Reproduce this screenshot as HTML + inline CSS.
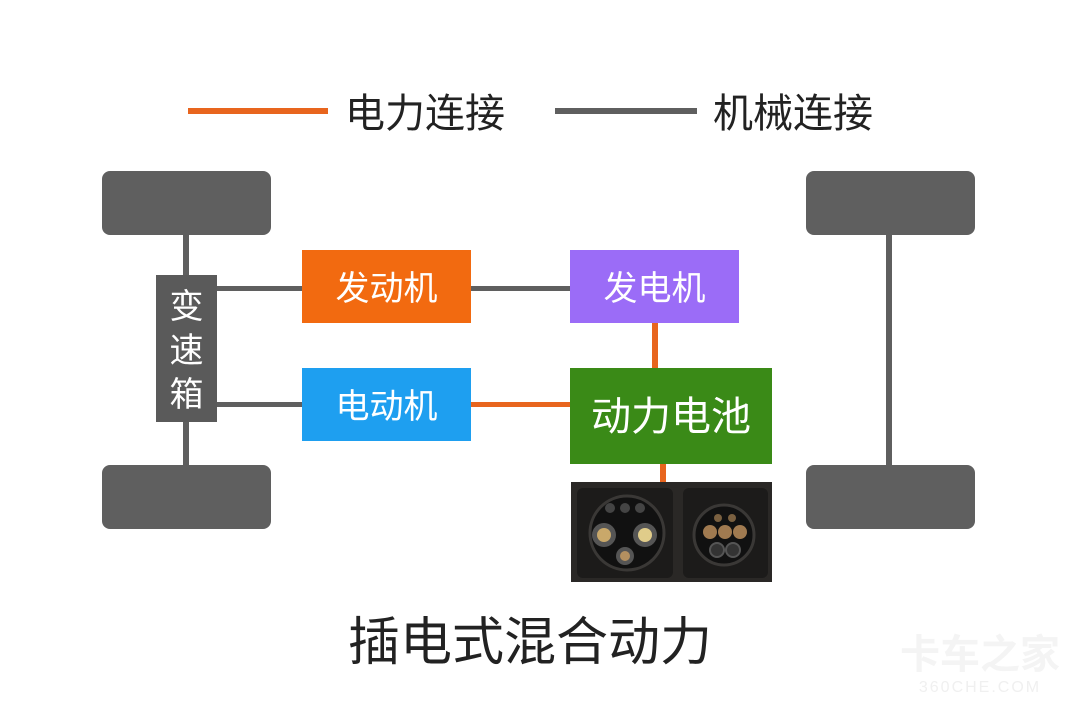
<!DOCTYPE html>
<html><head><meta charset="utf-8"><style>
body{margin:0;width:1080px;height:720px;background:#fff;overflow:hidden;font-family:"Liberation Sans","Noto Sans CJK SC",sans-serif}
</style></head><body>
<svg width="1080" height="720" viewBox="0 0 1080 720" xmlns="http://www.w3.org/2000/svg" font-family="Liberation Sans, Noto Sans CJK SC, sans-serif">
<rect width="1080" height="720" fill="#fff"/>
<rect x="188" y="108" width="140" height="6" fill="#e8651e"/>
<text x="345" y="127" font-size="40" fill="#222">电力连接</text>
<rect x="555" y="108" width="142" height="6" fill="#5f5f5f"/>
<text x="713" y="127" font-size="40" fill="#222">机械连接</text>
<rect x="183" y="230" width="6" height="240" fill="#5f5f5f"/>
<rect x="886" y="230" width="6" height="240" fill="#5f5f5f"/>
<rect x="102" y="171" width="169" height="64" rx="8" fill="#5f5f5f"/>
<rect x="102" y="465" width="169" height="64" rx="8" fill="#5f5f5f"/>
<rect x="806" y="171" width="169" height="64" rx="8" fill="#5f5f5f"/>
<rect x="806" y="465" width="169" height="64" rx="8" fill="#5f5f5f"/>
<rect x="217" y="286" width="85" height="5" fill="#5f5f5f"/>
<rect x="217" y="402" width="85" height="5" fill="#5f5f5f"/>
<rect x="471" y="286" width="99" height="5" fill="#5f5f5f"/>
<rect x="471" y="402" width="99" height="5" fill="#e8651e"/>
<rect x="652" y="323" width="6" height="45" fill="#e8651e"/>
<rect x="660" y="464" width="6" height="20" fill="#e8651e"/>
<rect x="156" y="275" width="61" height="147" fill="#5a5a5a"/>
<text x="186.5" y="318" font-size="34" fill="#fff" text-anchor="middle">变</text>
<text x="186.5" y="362" font-size="34" fill="#fff" text-anchor="middle">速</text>
<text x="186.5" y="406" font-size="34" fill="#fff" text-anchor="middle">箱</text>
<rect x="302" y="250" width="169" height="73" fill="#f26a10"/>
<text x="386.5" y="300" font-size="34" fill="#fff" text-anchor="middle">发动机</text>
<rect x="570" y="250" width="169" height="73" fill="#9b6cf7"/>
<text x="654.5" y="300" font-size="34" fill="#fff" text-anchor="middle">发电机</text>
<rect x="302" y="368" width="169" height="73" fill="#1e9ff0"/>
<text x="386.5" y="418" font-size="34" fill="#fff" text-anchor="middle">电动机</text>
<rect x="570" y="368" width="202" height="96" fill="#3a8a17"/>
<text x="671" y="430" font-size="40" fill="#fff" text-anchor="middle">动力电池</text>
<rect x="571" y="482" width="201" height="100" fill="#2a2826"/>
<rect x="577" y="488" width="96" height="90" rx="6" fill="#1c1b1a"/>
<rect x="683" y="488" width="85" height="90" rx="6" fill="#1c1b1a"/>
<circle cx="627" cy="533" r="37" fill="#111" stroke="#3a3836" stroke-width="3"/>
<circle cx="604" cy="535" r="12" fill="#555"/><circle cx="604" cy="535" r="7" fill="#c9a86a"/>
<circle cx="645" cy="535" r="12" fill="#555"/><circle cx="645" cy="535" r="7" fill="#e0cc8a"/>
<circle cx="625" cy="556" r="9" fill="#555"/><circle cx="625" cy="556" r="5" fill="#b49060"/>
<circle cx="610" cy="508" r="5" fill="#444"/><circle cx="625" cy="508" r="5" fill="#444"/><circle cx="640" cy="508" r="5" fill="#444"/>
<circle cx="724" cy="535" r="30" fill="#111" stroke="#3a3836" stroke-width="3"/>
<circle cx="710" cy="532" r="7" fill="#a07a50"/><circle cx="725" cy="532" r="7" fill="#a07a50"/><circle cx="740" cy="532" r="7" fill="#a07a50"/>
<circle cx="717" cy="550" r="7" fill="#333" stroke="#555" stroke-width="2"/><circle cx="733" cy="550" r="7" fill="#333" stroke="#555" stroke-width="2"/>
<circle cx="718" cy="518" r="4" fill="#7a6040"/><circle cx="732" cy="518" r="4" fill="#7a6040"/>
<text x="530" y="660" font-size="52" fill="#222" text-anchor="middle">插电式混合动力</text>
<text x="980" y="668" font-size="40" fill="#f4f4f4" text-anchor="middle" font-weight="bold">卡车之家</text>
<text x="980" y="692" font-size="16" fill="#f0f0f0" text-anchor="middle" letter-spacing="2">360CHE.COM</text>
</svg>
</body></html>
